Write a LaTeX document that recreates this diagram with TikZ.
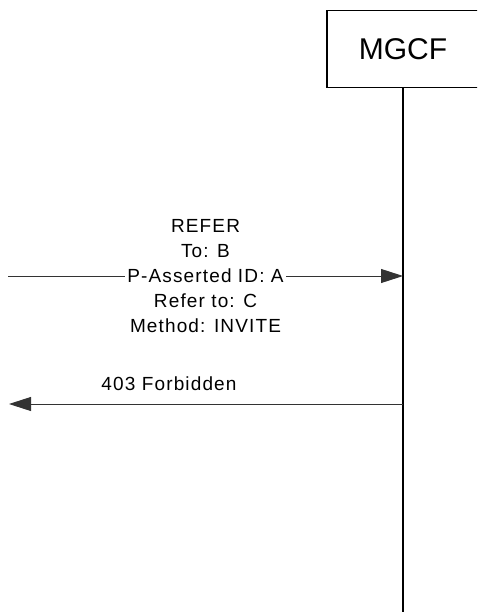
\documentclass[tikz,border=0pt]{standalone}
\usepackage{fontspec}
\setmainfont{Liberation Sans}
\newfontfamily\msgfont[LetterSpace=6]{Liberation Sans}
\usetikzlibrary{arrows.meta, positioning}
\tikzset{
  every picture/.style={x=1pt, y=-1pt, line width=1pt},
  entity/.style={draw, line width=1.3pt, minimum width=152pt, minimum height=77pt, font=\fontsize{30}{32}\selectfont},
  lifeline/.style={line width=1.8pt},
  msg/.style={-{Triangle[length=22pt, width=14pt]}, line width=0.9pt, draw=black!80},
  msgtext/.style={fill=white, inner sep=2pt, align=center, font=\msgfont\fontsize{19}{25}\selectfont},
}
\begin{document}
\begin{tikzpicture}
  \useasboundingbox (0,0) rectangle (477,612);
  \clip (0,0) rectangle (477,612);
  \node[entity] (mgcf) at (403,49) {MGCF};
  \coordinate (mgcfend) at (403,612);
  \draw[lifeline] (mgcf) -- (mgcfend);
  \coordinate (referfrom) at (8,276);
  \coordinate (referto) at (403,276);
  \draw[msg] (referfrom) -- node[msgtext] (refer) {REFER\\ To: B\\ P-Asserted ID: A\\ Refer to: C\\ Method: INVITE} (referto);
  \coordinate (forbfrom) at (403,404);
  \coordinate (forbto) at (9,404);
  \draw[msg] (forbfrom) -- (forbto);
  \node[msgtext, fill=none, anchor=south] (forb) at (169,393) {403 Forbidden};
\end{tikzpicture}
\end{document}
